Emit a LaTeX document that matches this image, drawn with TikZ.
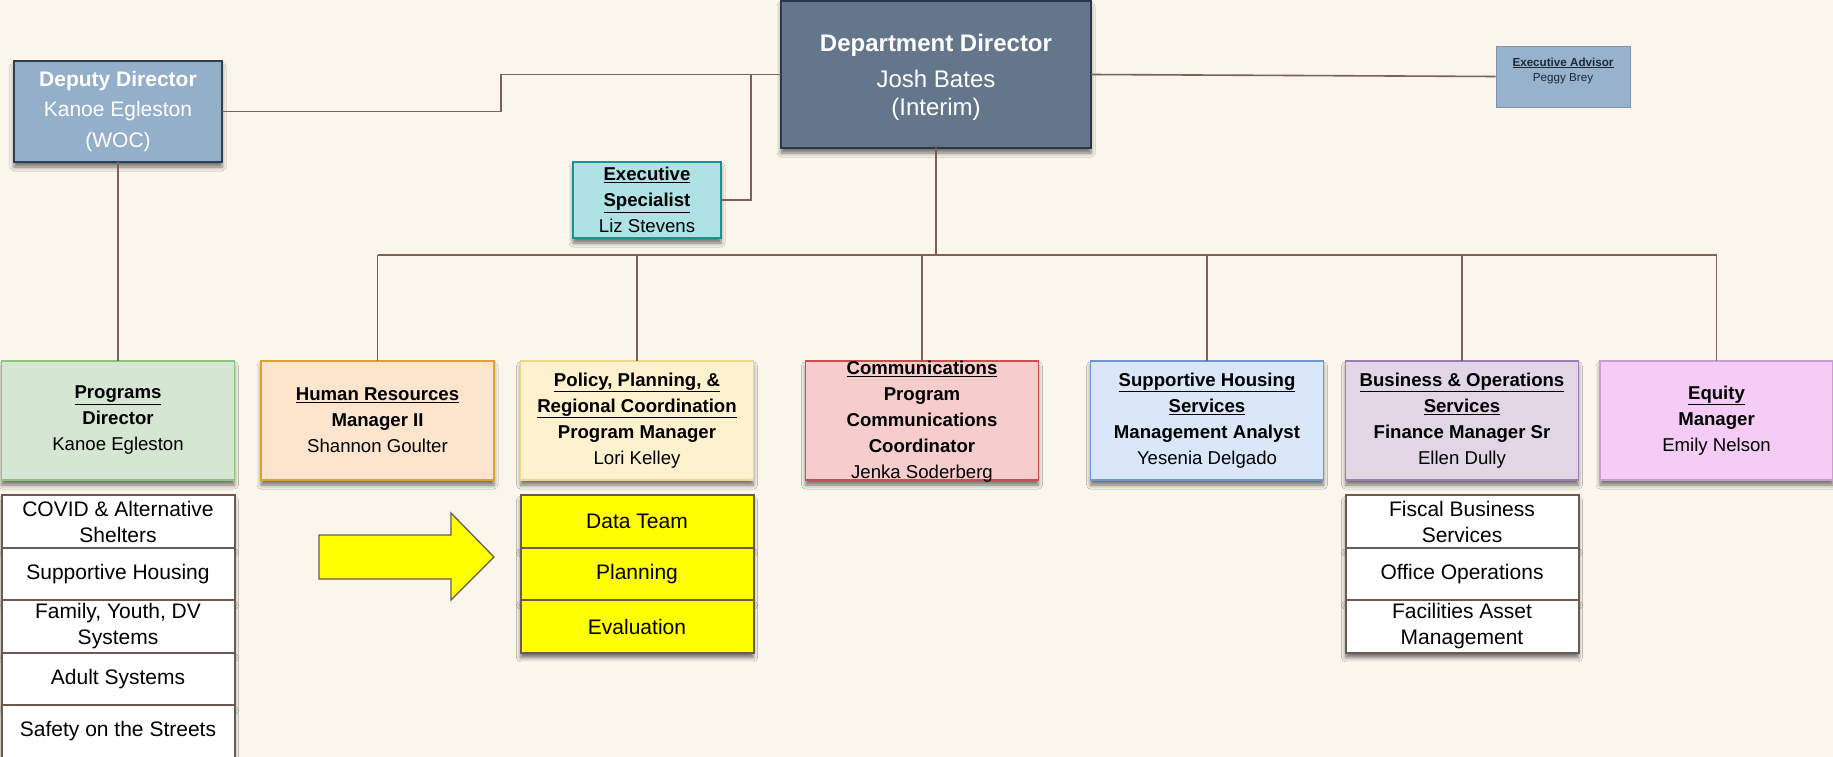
\documentclass[tikz,border=0pt]{standalone}
\usepackage{fontspec}
\setmainfont{Liberation Sans}
\usetikzlibrary{shadows.blur}

\definecolor{bg}{HTML}{FAF6EC}
\definecolor{wire}{HTML}{7B6158}
\definecolor{listedge}{HTML}{6B5A52}
\definecolor{unityellow}{HTML}{FFFF00}
\definecolor{depfill}{HTML}{94AFCA}\definecolor{depedge}{HTML}{2F3F52}
\definecolor{dirfill}{HTML}{63768B}\definecolor{diredge}{HTML}{2B3746}
\definecolor{specfill}{HTML}{AEE2E4}\definecolor{specedge}{HTML}{1B9191}
\definecolor{advfill}{HTML}{97B2CD}\definecolor{advedge}{HTML}{8095AA}
\definecolor{progfill}{HTML}{D5E6D2}\definecolor{progedge}{HTML}{91C27E}
\definecolor{hrfill}{HTML}{FDE4CD}\definecolor{hredge}{HTML}{DDA22B}
\definecolor{polfill}{HTML}{FEF1CE}\definecolor{poledge}{HTML}{F0D48E}
\definecolor{comfill}{HTML}{F6CDCC}\definecolor{comedge}{HTML}{C9504E}
\definecolor{shfill}{HTML}{D9E7F8}\definecolor{shedge}{HTML}{6E97CF}
\definecolor{busfill}{HTML}{E2D5E6}\definecolor{busedge}{HTML}{9C7DB5}
\definecolor{eqfill}{HTML}{F4CCF6}\definecolor{eqedge}{HTML}{C69FCF}
\definecolor{advtext}{HTML}{1F2A36}

\newcommand\ub[1]{\underline{\textbf{#1}}}

\tikzset{
  wireline/.style={draw=wire, line width=1.6pt},
  box/.style={draw, line width=1.5pt, inner sep=0pt, outer sep=0pt, align=center,
    blur shadow={shadow xshift=0pt, shadow yshift=-5pt, shadow blur radius=4pt, shadow opacity=55}},
  tier/.style={box, minimum width=233pt, minimum height=119pt,
    font=\fontsize{18.6}{26}\selectfont},
  listitem/.style={box, draw=listedge, line width=2pt, minimum width=233pt, minimum height=52.5pt,
    font=\fontsize{21}{26}\selectfont},
  boxtext/.style={inner sep=0pt, align=center, font=\fontsize{18.6}{26}\selectfont},
}

\begin{document}
\begin{tikzpicture}[x=1pt, y=-1pt]
  \fill[bg] (0,0) rectangle (1833,757);
  \useasboundingbox (0,0) rectangle (1833,757);

  % top level
  \node[box, fill=dirfill, draw=diredge, text=white, minimum width=310pt, minimum height=147pt] (director) at (936,74.5) {};
  \node[inner sep=0pt, align=center, text=white, font=\fontsize{24}{28}\selectfont] (directortext) at (936,77.5)
        {\textbf{Department Director}\\[8pt]Josh Bates\\(Interim)};
  \node[box, fill=depfill, draw=depedge, text=white, minimum width=208pt, minimum height=101pt,
        font=\fontsize{21}{30.5}\selectfont] (deputy) at (118,111.5)
        {\textbf{Deputy Director}\\Kanoe Egleston\\(WOC)};
  \node[box, fill=specfill, draw=specedge, minimum width=148pt, minimum height=76pt,
        font=\fontsize{18.6}{26}\selectfont] (execspec) at (647,200)
        {\ub{Executive}\\\ub{Specialist}\\Liz Stevens};
  \node[draw=advedge, fill=advfill, line width=0.8pt, minimum width=134pt, minimum height=61pt,
        inner sep=0pt] (advisor) at (1563,76.5) {};
  \node[inner sep=0pt, align=center, text=advtext, font=\fontsize{11.65}{15}\selectfont]
        (advisortext) at (1563,70.5) {\ub{Executive Advisor}\\Peggy Brey};

  % second level
  \node[tier, fill=progfill, draw=progedge] (programs) at (118,420.5)
        {\ub{Programs}\\\textbf{Director}\\Kanoe Egleston};
  \node[tier, fill=hrfill, draw=hredge] (hr) at (377.5,420.5)
        {\ub{Human Resources}\\\textbf{Manager II}\\Shannon Goulter};
  \node[tier, fill=polfill, draw=poledge] (policy) at (637,420.5)
        {\ub{Policy, Planning, \&}\\\ub{Regional Coordination}\\\textbf{Program Manager}\\Lori Kelley};
  \node[tier, fill=comfill, draw=comedge] (comm) at (922,420.5) {};
  \node[boxtext] (commtext) at (922,422)
        {\ub{Communications}\\\textbf{Program}\\\textbf{Communications}\\\textbf{Coordinator}\\Jenka Soderberg};
  \node[tier, fill=shfill, draw=shedge] (sh) at (1207,420.5)
        {\ub{Supportive Housing}\\\ub{Services}\\\textbf{Management Analyst}\\Yesenia Delgado};
  \node[tier, fill=busfill, draw=busedge] (bus) at (1462,420.5)
        {\ub{Business \& Operations}\\\ub{Services}\\\textbf{Finance Manager Sr}\\Ellen Dully};
  \node[tier, fill=eqfill, draw=eqedge] (equity) at (1716.5,420.5)
        {\ub{Equity}\\\textbf{Manager}\\Emily Nelson};

  % program units
  \node[listitem, fill=white] (p1) at (118,521.5) {COVID \& Alternative\\Shelters};
  \node[listitem, fill=white] (p2) at (118,574) {Supportive Housing};
  \node[listitem, fill=white] (p3) at (118,626.5) {Family, Youth, DV\\Systems};
  \node[listitem, fill=white] (p4) at (118,679) {Adult Systems};
  \node[listitem, fill=white] (p5) at (118,731.5) {Safety on the Streets};

  % policy units
  \node[listitem, fill=unityellow] (y1) at (637,521.5) {Data Team};
  \node[listitem, fill=unityellow] (y2) at (637,574) {Planning};
  \node[listitem, fill=unityellow] (y3) at (637,626.5) {Evaluation};

  % business units
  \node[listitem, fill=white] (b1) at (1462,521.5) {Fiscal Business\\Services};
  \node[listitem, fill=white] (b2) at (1462,574) {Office Operations};
  \node[listitem, fill=white] (b3) at (1462,626.5) {Facilities Asset\\Management};

  % block arrow pointing at the policy units
  \draw[fill=unityellow, draw=listedge, line width=1.3pt, line join=miter]
    (319,535) -- (451,535) -- (451,513) -- (494,557) -- (451,600) -- (451,579) -- (319,579) -- cycle;

  % connectors
  \coordinate (dj) at (501,90);
  \coordinate (ej) at (751,74.5);
  \coordinate (spine) at (936,255);
  \draw[wireline] (deputy.east) -| (dj) |- (director.west);
  \draw[wireline] (execspec.east) -| (ej);
  \draw[wireline] (director.east) -- (advisor.west);
  \draw[wireline] (deputy.south) -- (programs.north);
  \draw[wireline] (director.south) -- (spine);
  \draw[wireline] (hr.north |- spine) -- (equity.north |- spine);
  \foreach \n in {hr,policy,comm,sh,bus,equity}
    \draw[wireline] (\n.north |- spine) -- (\n.north);
\end{tikzpicture}
\end{document}
